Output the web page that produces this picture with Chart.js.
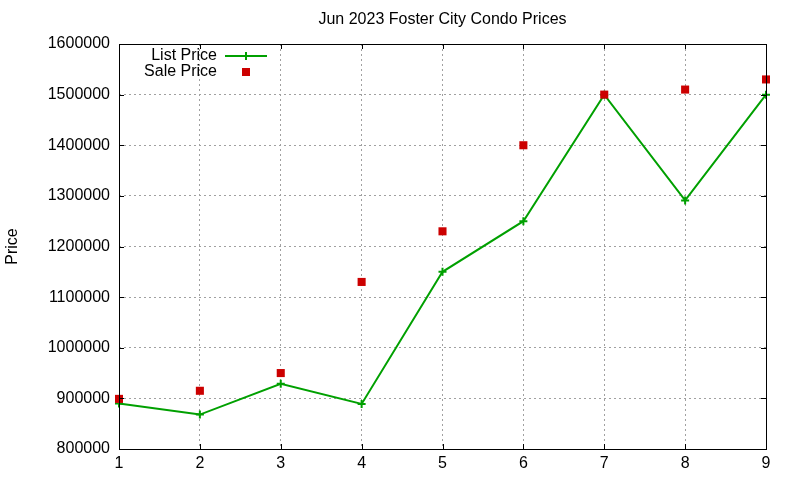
<!DOCTYPE html>
<html>
<head>
<meta charset="utf-8">
<script src="https://cdn.jsdelivr.net/npm/chart.js@4/dist/chart.umd.min.js"></script>
<style>
  body { margin: 0; background: #fff; }
  #wrap { width: 800px; height: 480px; }
</style>
</head>
<body>
<div id="wrap"><canvas id="chart" width="800" height="480"></canvas></div>
<script>
// ===== Data =====
const months = ['1', '2', '3', '4', '5', '6', '7', '8', '9'];
const listPrice = [890000, 868000, 929000, 889000, 1150000, 1250000, 1500000, 1291000, 1500000];
const salePrice = [899000, 915000, 950000, 1130000, 1230000, 1400000, 1500000, 1510000, 1530000];
const yTicks = { min: 800000, max: 1600000, step: 100000 };

const chartTitle = 'Jun 2023 Foster City Condo Prices';
const FONT = '"Liberation Sans", Arial, sans-serif';
const GREEN = '#00a000';
const RED = '#cc0000';

// title, legend, border and inward ticks the gnuplot way
const gnuplotBits = {
    id: 'gnuplotBits',
    afterDraw(chart) {
        const { ctx, chartArea: a, scales } = chart;
        ctx.save();
        ctx.font = '16px ' + FONT;
        ctx.fillStyle = '#000';
        ctx.textBaseline = 'middle';
        ctx.textAlign = 'center';
        ctx.fillText(chartTitle, (a.left + a.right) / 2, 20);

        // border + inward ticks
        ctx.strokeStyle = '#000';
        ctx.lineWidth = 1;
        ctx.strokeRect(a.left + 0.5, a.top + 0.5, a.right - a.left, a.bottom - a.top);
        ctx.beginPath();
        scales.y.ticks.forEach(t => {
            const y = Math.round(scales.y.getPixelForValue(t.value)) + 0.5;
            ctx.moveTo(a.left, y); ctx.lineTo(a.left + 5, y);
            ctx.moveTo(a.right, y); ctx.lineTo(a.right - 5, y);
        });
        scales.x.ticks.forEach((t, i) => {
            const x = Math.round(scales.x.getPixelForTick(i)) + 0.5;
            ctx.moveTo(x, a.bottom); ctx.lineTo(x, a.bottom - 5);
            ctx.moveTo(x, a.top); ctx.lineTo(x, a.top + 5);
        });
        ctx.stroke();

        // legend
        ctx.textAlign = 'right';
        ctx.fillText('List Price', 217, 56);
        ctx.fillText('Sale Price', 217, 72);
        ctx.strokeStyle = GREEN;
        ctx.lineWidth = 2;
        ctx.beginPath();
        ctx.moveTo(225, 56); ctx.lineTo(267, 56);
        ctx.moveTo(246, 52); ctx.lineTo(246, 60);
        ctx.stroke();
        ctx.fillStyle = RED;
        ctx.fillRect(242, 68, 8, 8);
        ctx.restore();
    }
};

new Chart(document.getElementById('chart'), {
    type: 'line',
    data: {
        labels: months,
        datasets: [
            {
                label: 'List Price', data: listPrice, order: 2,
                borderColor: GREEN, backgroundColor: GREEN, borderWidth: 2,
                pointStyle: 'cross', pointRadius: 4, pointBorderWidth: 2,
                tension: 0, clip: false
            },
            {
                label: 'Sale Price', data: salePrice, order: 1, showLine: false,
                borderColor: RED, backgroundColor: RED, borderWidth: 0,
                pointStyle: 'rect', pointRadius: 5.7, pointBorderWidth: 0,
                clip: false
            }
        ]
    },
    options: {
        responsive: false, animation: false,
        devicePixelRatio: 1,
        layout: { padding: { top: 44, right: 34, left: 0, bottom: 0 } },
        plugins: { legend: { display: false }, title: { display: false }, tooltip: { enabled: false } },
        scales: {
            x: {
                offset: false,
                grid: { color: '#a0a0a0', lineWidth: 1, drawTicks: false },
                border: { display: false, dash: [2, 3] },
                ticks: { color: '#000', padding: 5, font: { family: FONT, size: 16 }, maxRotation: 0 },
                afterFit(s) { s.height = 31; }
            },
            y: {
                min: yTicks.min, max: yTicks.max,
                grid: { color: '#a0a0a0', lineWidth: 1, drawTicks: false },
                border: { display: false, dash: [2, 3] },
                ticks: {
                    stepSize: yTicks.step, color: '#000', padding: 9,
                    font: { family: FONT, size: 16 },
                    callback: v => String(v)
                },
                title: { display: true, text: 'Price', color: '#000', font: { family: FONT, size: 16 }, padding: { top: 3, bottom: 0 } },
                afterFit(s) { s.width = 119; }
            }
        }
    },
    plugins: [gnuplotBits]
});
</script>
</body>
</html>
